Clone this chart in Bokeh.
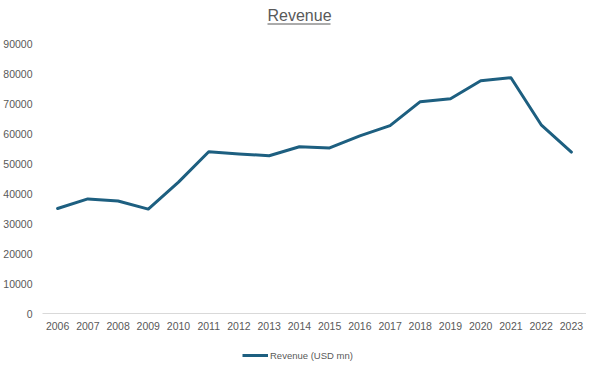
from bokeh.plotting import figure
from bokeh.layouts import column
from bokeh.models import (Range1d, FactorRange, Legend, LegendItem, Label,
                          BoxAnnotation, NumeralTickFormatter, FixedTicker)
from bokeh.embed import file_html
from bokeh.resources import INLINE

years = ["2006", "2007", "2008", "2009", "2010", "2011", "2012", "2013", "2014",
         "2015", "2016", "2017", "2018", "2019", "2020", "2021", "2022", "2023"]
revenue = [35000, 38200, 37500, 34800, 43800, 53900, 53200, 52600, 55600,
           55200, 59200, 62600, 70600, 71600, 77600, 78600, 62900, 53800]
y_ticks = [0, 10000, 20000, 30000, 40000, 50000, 60000, 70000, 80000, 90000]
series_name = "Revenue (USD mn)"
title_text = "Revenue"

FONT = "Liberation Sans"
GREY = "#595959"
LINE = "#1d5f80"
LEFT = 42
FW = 544


def strip(height):
    # pixel-mapped strip: x in canvas px, y in px measured from the strip top
    f = figure(frame_width=FW, frame_height=height,
               x_range=Range1d(LEFT, LEFT + FW), y_range=Range1d(height, 0),
               output_backend="svg", toolbar_location=None,
               x_axis_location=None, y_axis_location=None,
               min_border_left=LEFT, min_border_right=0,
               min_border_top=0, min_border_bottom=0)
    f.outline_line_color = None
    f.grid.visible = False
    return f


# ---- title strip ----
tf = strip(35)
tf.add_layout(Label(x=267, y=15, text=title_text, text_font=FONT,
                    text_font_size="16px", text_color=GREY,
                    text_baseline="alphabetic"))
tf.add_layout(BoxAnnotation(left=267, right=330, top=23, bottom=24,
                            fill_color=GREY, fill_alpha=1, line_alpha=0))

# ---- main chart ----
p = figure(frame_width=FW, frame_height=270, x_range=FactorRange(*years),
           y_range=Range1d(0, 90000), output_backend="svg",
           toolbar_location=None, min_border_left=LEFT, min_border_right=0,
           min_border_top=8, min_border_bottom=22)
p.outline_line_color = None
p.xgrid.grid_line_color = None
p.ygrid.grid_line_color = None

r = p.line(x=years, y=revenue, line_color=LINE, line_width=3,
           line_join="round", line_cap="round")

ya = p.yaxis[0]
ya.ticker = FixedTicker(ticks=y_ticks)
ya.formatter = NumeralTickFormatter(format="0")
ya.axis_line_color = None
ya.major_tick_line_color = None
ya.minor_tick_line_color = None
ya.major_tick_out = 0
ya.major_tick_in = 0
ya.major_label_standoff = 10
ya.major_label_text_font = FONT
ya.major_label_text_font_size = "10.5px"
ya.major_label_text_color = GREY

xa = p.xaxis[0]
xa.axis_line_color = "#d9d9d9"
xa.axis_line_width = 1
xa.major_tick_line_color = None
xa.minor_tick_line_color = None
xa.major_tick_out = 0
xa.major_tick_in = 0
xa.major_label_standoff = 8
xa.major_label_text_font = FONT
xa.major_label_text_font_size = "10.5px"
xa.major_label_text_color = GREY

# ---- legend strip ----
# the series is re-plotted here far outside the strip's view (clipped), only
# so that the legend has a renderer to draw its line sample from
lf = strip(27)
lr = lf.line(x=list(range(len(revenue))), y=revenue, line_color=LINE,
             line_width=3)
legend = Legend(items=[LegendItem(label=series_name, renderers=[lr])],
                orientation="horizontal", location=(200, 0),
                border_line_color=None, background_fill_alpha=0,
                label_text_font=FONT, label_text_font_size="9.5px",
                label_text_color=GREY, glyph_width=26, glyph_height=14,
                label_height=14, label_standoff=2, padding=0, margin=0)
lf.add_layout(legend)

layout = column(tf, p, lf, spacing=0)
open("out.html", "w").write(file_html(layout, INLINE))
